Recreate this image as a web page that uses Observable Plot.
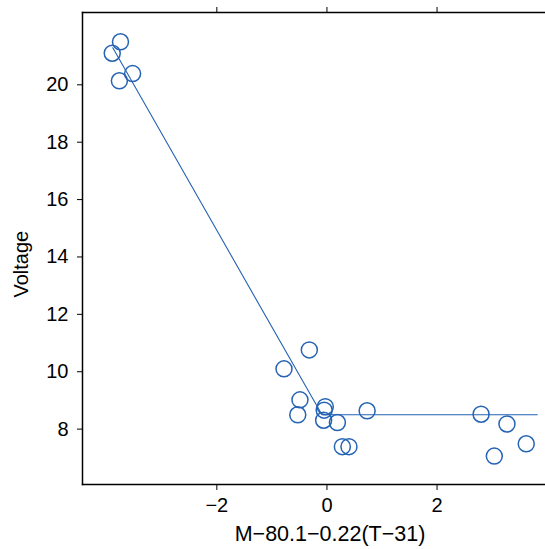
<!DOCTYPE html>
<html><head><meta charset="utf-8">
<script src="https://cdn.jsdelivr.net/npm/d3@7"></script>
<script src="https://cdn.jsdelivr.net/npm/@observablehq/plot@0.6"></script>
<style>body{margin:0;background:#fff}</style>
</head><body><div id="chart"></div>
<script>
const pointX = [-3.75, -3.90, -3.77, -3.53, -0.32, -0.78, -0.49, -0.53, -0.03, -0.05, -0.06, 0.19, 0.28, 0.40, 0.73, 2.80, 3.27, 3.62, 3.04];
const pointY = [21.50, 21.10, 20.14, 20.39, 10.76, 10.10, 9.02, 8.50, 8.78, 8.66, 8.31, 8.23, 7.39, 7.39, 8.64, 8.52, 8.18, 7.49, 7.06];
const fitX = [-3.89, -0.09, 3.82];
const fitY = [21.29, 8.50, 8.50];
const xTicks = [-2, 0, 2];
const yTicks = [8, 10, 12, 14, 16, 18, 20];
const xLabel = "M\u221280.1\u22120.22(T\u221231)";
const yLabel = "Voltage";

const points = pointX.map((x, i) => ({x, y: pointY[i]}));
const fit = fitX.map((x, i) => ({x, y: fitY[i]}));
const blue = "#2563b3";

const chart = Plot.plot({
  width: 545, height: 549,
  marginLeft: 82, marginRight: 0, marginTop: 12, marginBottom: 65,
  x: {domain: [-4.44, 3.97]},
  y: {domain: [6.07, 22.52]},
  style: {fontFamily: "'Liberation Sans', Arial, sans-serif", fontSize: "20px", color: "black", background: "white"},
  marks: [
    Plot.frame({anchor: "top", stroke: "black", strokeWidth: 1.5}),
    Plot.frame({anchor: "bottom", stroke: "black", strokeWidth: 1.5}),
    Plot.frame({anchor: "left", stroke: "black", strokeWidth: 1.5}),
    Plot.axisX(xTicks, {anchor: "bottom", tickSize: 6, tickPadding: 7, label: null, stroke: "black", fontSize: 20}),
    Plot.axisX(xTicks, {anchor: "top", tickSize: 6, tickFormat: () => "", label: null, stroke: "black"}),
    Plot.axisY(yTicks, {anchor: "left", tickSize: 5, tickPadding: 9, label: null, stroke: "black", fontSize: 20}),
    Plot.line(fit, {x: "x", y: "y", stroke: blue, strokeWidth: 1.1}),
    Plot.dot(points, {x: "x", y: "y", r: 8, stroke: blue, strokeWidth: 1.5, fill: "none"}),
    Plot.text([xLabel], {frameAnchor: "bottom", dx: 16, dy: 56, fontSize: 21.5, fill: "black"}),
    Plot.text([yLabel], {frameAnchor: "left", rotate: -90, dx: -61, dy: 49, fontSize: 20, fill: "black"})
  ]
});
document.getElementById("chart").appendChild(chart);
</script>
</body></html>
